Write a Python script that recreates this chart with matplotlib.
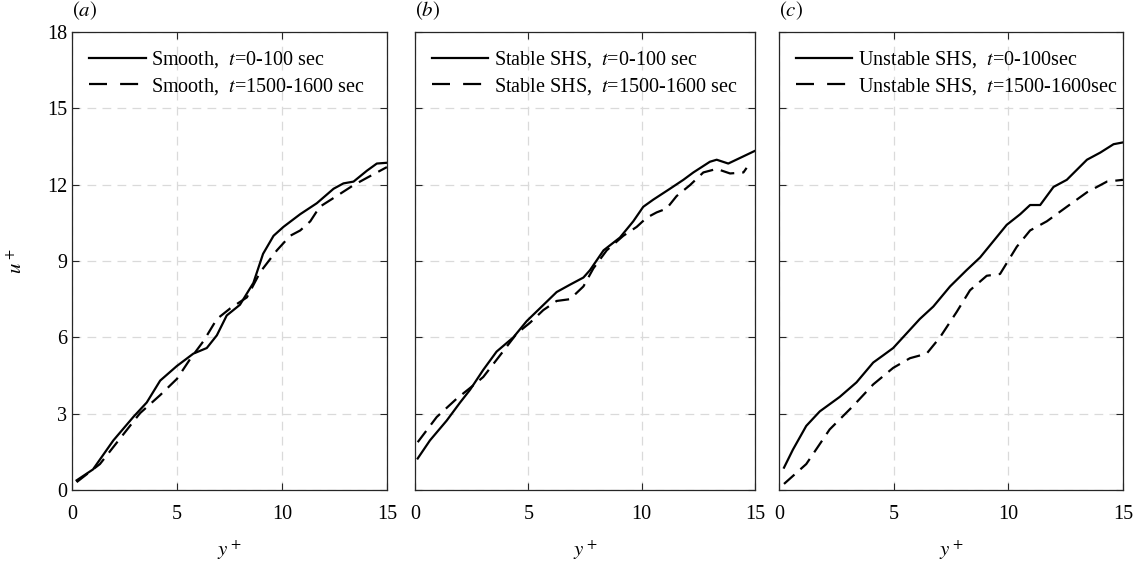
import matplotlib
matplotlib.use("Agg")
import matplotlib.pyplot as plt
import numpy as np

plt.rcParams['font.family'] = ['Liberation Serif', 'DejaVu Serif']
plt.rcParams['mathtext.fontset'] = 'stix'

# panel (a) smooth
a_x0 = [0.22, 1.0, 1.97, 2.92, 3.56, 4.2, 4.99, 5.78, 6.42, 6.9, 7.37, 8.0, 8.64, 9.1, 9.6,
        10.07, 10.87, 11.66, 12.46, 12.93, 13.41, 14.05, 14.52, 15.0]
a_y0 = [0.38, 0.81, 1.95, 2.87, 3.44, 4.3, 4.87, 5.36, 5.58, 6.08, 6.86, 7.28, 8.14, 9.28, 9.99,
        10.34, 10.84, 11.27, 11.84, 12.05, 12.12, 12.55, 12.83, 12.86]
a_x1 = [0.22, 1.33, 3.24, 4.2, 5.0, 5.63, 6.27, 6.9, 7.54, 8.33, 8.97, 9.76, 10.39, 10.87,
        11.35, 11.8, 12.6, 13.41, 14.05, 15.0]
a_y1 = [0.31, 1.02, 3.02, 3.73, 4.37, 5.15, 5.86, 6.72, 7.14, 7.57, 8.57, 9.42, 9.99, 10.2,
        10.56, 11.13, 11.55, 11.98, 12.27, 12.69]

# panel (b) stable SHS
b_x0 = [0.12, 0.66, 1.4, 1.99, 2.43, 3.01, 3.6, 4.34, 4.93, 5.51, 6.25, 6.84, 7.43, 7.72, 8.32,
        9.04, 9.63, 10.07, 10.51, 11.25, 11.84, 12.28, 13.01, 13.31, 13.82, 14.34, 15.0]
b_y0 = [1.24, 1.95, 2.73, 3.44, 3.94, 4.72, 5.44, 6.0, 6.64, 7.14, 7.78, 8.07, 8.35, 8.64, 9.42,
        9.92, 10.56, 11.13, 11.41, 11.84, 12.19, 12.48, 12.9, 12.98, 12.83, 13.05, 13.33]
b_x1 = [0.12, 0.96, 1.84, 2.43, 3.01, 3.75, 4.49, 5.07, 5.66, 6.25, 6.84, 7.43, 7.87, 8.46,
        9.19, 9.78, 10.22, 10.66, 11.1, 11.54, 12.13, 12.72, 13.31, 13.9, 14.49, 14.63]
b_y1 = [1.88, 2.87, 3.59, 4.01, 4.44, 5.29, 6.15, 6.57, 7.07, 7.43, 7.5, 8.0, 8.71, 9.42,
        9.99, 10.34, 10.7, 10.91, 11.06, 11.55, 11.98, 12.48, 12.62, 12.44, 12.48, 12.66]

# panel (c) unstable SHS
c_x0 = [0.22, 0.61, 1.19, 1.78, 2.65, 3.38, 4.11, 4.54, 4.98, 5.56, 6.14, 6.73, 7.46, 8.18,
        8.77, 9.35, 9.93, 10.52, 10.95, 11.39, 11.97, 12.55, 13.43, 14.01, 14.59, 15.0]
c_y0 = [0.88, 1.59, 2.52, 3.09, 3.66, 4.23, 5.01, 5.29, 5.58, 6.15, 6.72, 7.21, 8.0, 8.64,
        9.14, 9.78, 10.42, 10.84, 11.2, 11.2, 11.91, 12.19, 12.98, 13.26, 13.59, 13.66]
c_x1 = [0.22, 1.19, 2.21, 3.23, 4.11, 4.98, 5.71, 6.44, 7.02, 7.75, 8.33, 9.06, 9.64, 10.37,
        10.95, 11.68, 12.55, 13.43, 14.3, 15.0]
c_y1 = [0.24, 1.02, 2.38, 3.3, 4.15, 4.8, 5.18, 5.36, 6.0, 7.0, 7.85, 8.42, 8.49, 9.56,
        10.2, 10.56, 11.13, 11.7, 12.12, 12.19]

labels = [
    ['Smooth,  $t$=0-100 sec', 'Smooth,  $t$=1500-1600 sec'],
    ['Stable SHS,  $t$=0-100 sec', 'Stable SHS,  $t$=1500-1600 sec'],
    ['Unstable SHS,  $t$=0-100sec', 'Unstable SHS,  $t$=1500-1600sec'],
]
tags = ['$(a)$', '$(b)$', '$(c)$']
data = [(a_x0, a_y0, a_x1, a_y1), (b_x0, b_y0, b_x1, b_y1), (c_x0, c_y0, c_x1, c_y1)]

fig = plt.figure(figsize=(11.41, 5.69), dpi=100)
pos = [[0.0631, 0.1388, 0.276, 0.805],
       [0.3637, 0.1388, 0.298, 0.805],
       [0.6827, 0.1388, 0.3015, 0.805]]

for i in range(3):
    ax = fig.add_axes(pos[i])
    x0, y0, x1, y1 = data[i]
    ax.plot(x0, y0, color='black', lw=1.6, label=labels[i][0])
    ax.plot(x1, y1, color='black', lw=1.6, dashes=(6.3, 3.6), label=labels[i][1])
    ax.set_xlim(0, 15)
    ax.set_ylim(0, 18)
    ax.set_xticks([0, 5, 10, 15])
    ax.set_yticks([0, 3, 6, 9, 12, 15, 18])
    ax.grid(True, color='#dadada', ls=(0, (7, 5)), lw=0.9)
    ax.tick_params(direction='in', top=True, right=True, labelsize=14.5, length=5, color='#262626')
    ax.tick_params(axis='x', pad=11)
    for s in ax.spines.values():
        s.set_color('#262626')
        s.set_linewidth(0.9)
    if i > 0:
        ax.set_yticklabels([])
    else:
        ax.set_ylabel('$u^+$', fontsize=15, labelpad=14)
    ax.set_xlabel('$y^+$', fontsize=15, labelpad=10)
    ax.text(0.0, 1.022, tags[i], transform=ax.transAxes, fontsize=15, ha='left', va='bottom')
    leg = ax.legend(loc='upper left', frameon=False, fontsize=14.5, handlelength=2.8,
                    handletextpad=0.25, borderaxespad=0.45, labelspacing=0.3)
    leg.legend_handles[1].set_dashes((8.1, 5.9))

fig.savefig('out.png', dpi=100)
